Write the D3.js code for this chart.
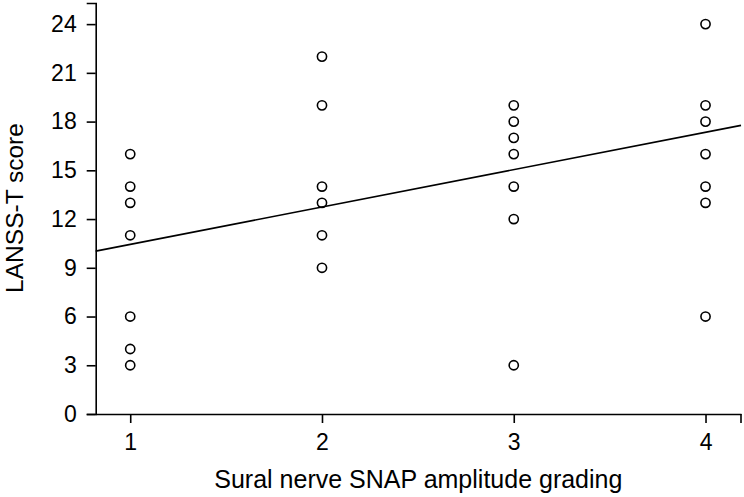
<!DOCTYPE html>
<html>
<head>
    <title>LANSS-T score vs SNAP grading</title>
    <style>
        body { margin: 0; background: #fff; }
        text { font-family: "Liberation Sans", Arial, sans-serif; fill: #000; }
        .axis path, .axis line { stroke: #000; stroke-width: 1.6; }
        .dot { fill: none; stroke: #000; stroke-width: 1.6; }
        .fit { stroke: #000; stroke-width: 1.6; fill: none; }
    </style>
</head>
<body>
    <div id="chart"></div>
    <script src="https://d3js.org/d3.v7.min.js"></script>
    <script>
        // data
        const grades = [1, 2, 3, 4];
        const group1 = [16, 14, 13, 11, 6, 4, 3];
        const group2 = [22, 19, 14, 13, 11, 9];
        const group3 = [19, 18, 17, 16, 14, 12, 3];
        const group4 = [24, 19, 18, 16, 14, 13, 6];
        const yTicks = [0, 3, 6, 9, 12, 15, 18, 21, 24];
        // fitted line (intercept, slope) as drawn
        const fitIntercept = 8.14;
        const fitSlope = 2.30;

        const xDomain = [0.82, 4.185];
        const yDomain = [0, 25.3];

        const width = 744, height = 497;
        const plotLeft = 95.7, plotRight = 741, plotTop = 3, plotBottom = 414;

        const svg = d3.select("#chart").append("svg")
            .attr("width", width)
            .attr("height", height);

        const x = d3.scaleLinear().domain(xDomain).range([plotLeft, plotRight]);
        const y = d3.scaleLinear().domain(yDomain).range([plotBottom, plotTop]);

        // y axis
        const yAxis = svg.append("g")
            .attr("class", "axis")
            .attr("transform", "translate(" + plotLeft + ",0)")
            .call(d3.axisLeft(y).tickValues(yTicks).tickFormat(d3.format("d"))
                .tickSize(9).tickSizeOuter(9).tickPadding(10));
        yAxis.selectAll(".tick text").style("font-size", "23px");

        // x axis
        const xAxis = svg.append("g")
            .attr("class", "axis")
            .attr("transform", "translate(0," + plotBottom + ")")
            .call(d3.axisBottom(x).tickValues(grades).tickFormat(d3.format("d"))
                .tickSize(9).tickSizeOuter(0).tickPadding(10));
        xAxis.selectAll(".tick text").style("font-size", "23px")
            .attr("dy", null).attr("y", 36);

        // end tick at the right of x axis
        xAxis.append("line")
            .attr("x1", x(xDomain[1])).attr("x2", x(xDomain[1]))
            .attr("y1", 0).attr("y2", 9);

        // fit line
        svg.append("line")
            .attr("class", "fit")
            .attr("x1", x(xDomain[0])).attr("y1", y(fitIntercept + fitSlope * xDomain[0]))
            .attr("x2", x(xDomain[1])).attr("y2", y(fitIntercept + fitSlope * xDomain[1]));

        // points
        const groups = [group1, group2, group3, group4];
        const points = [];
        groups.forEach((g, i) => g.forEach(v => points.push({ g: grades[i], v: v })));

        svg.selectAll(".dot").data(points).enter().append("circle")
            .attr("class", "dot")
            .attr("cx", d => x(d.g))
            .attr("cy", d => y(d.v))
            .attr("r", 4.6);

        // axis titles
        svg.append("text")
            .attr("x", (plotLeft + plotRight) / 2)
            .attr("y", 488)
            .attr("text-anchor", "middle")
            .style("font-size", "25px")
            .text("Sural nerve SNAP amplitude grading");

        svg.append("text")
            .attr("transform", "translate(22.5,208) rotate(-90)")
            .attr("text-anchor", "middle")
            .style("font-size", "24.5px")
            .text("LANSS-T score");
    </script>
</body>
</html>
